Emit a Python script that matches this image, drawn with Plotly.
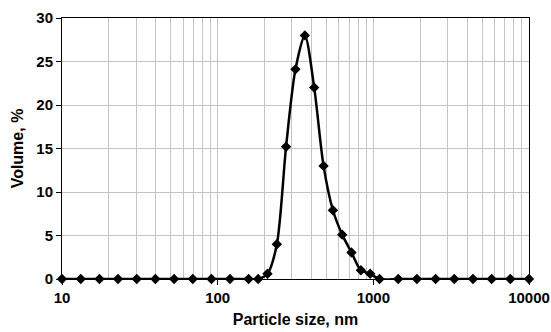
import plotly.graph_objects as go

# Particle size distribution (volume-weighted)
sizes_nm = [10.0, 13.2, 17.4, 22.9, 30.2, 39.8, 52.5, 69.2, 91.2, 120, 158,
            182, 209, 240, 275, 316, 363, 417, 479, 550, 631, 724, 832, 955,
            1096, 1445, 1905, 2512, 3311, 4365, 5754, 7586, 10000]
volume_pct = [0, 0, 0, 0, 0, 0, 0, 0, 0, 0, 0,
              0, 0.6, 4.0, 15.2, 24.1, 28.0, 22.0, 13.0, 7.9, 5.1, 3.05, 1.0, 0.6,
              0, 0, 0, 0, 0, 0, 0, 0, 0]

x_tick_vals = [10, 100, 1000, 10000]
x_tick_text = ["10", "100", "1000", "10000"]
y_tick_vals = [0, 5, 10, 15, 20, 25, 30]

FONT = "Liberation Sans, Arial, sans-serif"
GRID = "#c4c4c4"

fig = go.Figure()
fig.add_trace(go.Scatter(
    x=sizes_nm, y=volume_pct,
    mode="lines+markers",
    line=dict(color="black", width=2.5, shape="spline", smoothing=0.8),
    marker=dict(symbol="diamond", size=8, color="black"),
    showlegend=False,
    cliponaxis=False,
))

fig.update_layout(
    width=551, height=332,
    margin=dict(l=62, r=22, t=18, b=53),
    paper_bgcolor="white", plot_bgcolor="white",
    font=dict(family=FONT, color="black"),
    xaxis=dict(
        type="log", range=[1, 4], automargin=False,
        tickvals=x_tick_vals, ticktext=x_tick_text,
        tickfont=dict(size=15, family=FONT, weight="bold"),
        ticks="outside", ticklen=5, tickcolor="black",
        showgrid=True, gridcolor=GRID, gridwidth=1,
        minor=dict(dtick="D1", showgrid=True, gridcolor=GRID, gridwidth=1, ticks=""),
        showline=True, linecolor="black", linewidth=1, mirror=True,
        zeroline=False,
        title=dict(text="Particle size, nm", font=dict(size=16, family=FONT, weight="bold"),
                   standoff=8),
    ),
    yaxis=dict(
        range=[0, 30], tickvals=y_tick_vals, automargin=False,
        tickfont=dict(size=15, family=FONT, weight="bold"),
        ticks="outside", ticklen=5, tickcolor="black",
        showgrid=True, gridcolor=GRID, gridwidth=1,
        showline=True, linecolor="black", linewidth=1, mirror=True,
        zeroline=False,
        title=dict(text="Volume, %", font=dict(size=16, family=FONT, weight="bold"),
                   standoff=8),
    ),
)

fig.write_html("out.html")
